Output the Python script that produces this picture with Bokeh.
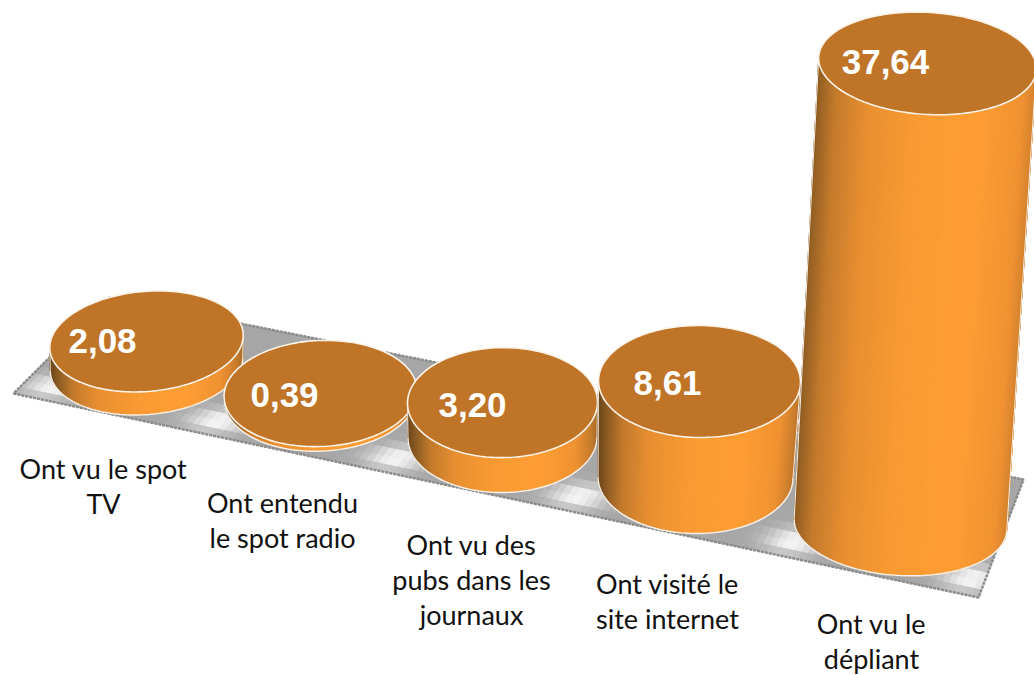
import numpy as np
from bokeh.plotting import figure
from bokeh.models import Range1d
from bokeh.core.properties import value
from bokeh.embed import file_html
from bokeh.resources import INLINE

# ---- chart data
categories = ["Ont vu le spot\nTV", "Ont entendu\nle spot radio",
              "Ont vu des\npubs dans les\njournaux", "Ont visité le\nsite internet",
              "Ont vu le\ndépliant"]
values = [2.08, 0.39, 3.20, 8.61, 37.64]
value_labels = ["2,08", "0,39", "3,20", "8,61", "37,64"]

# ---- layout of the 3D projection (reference pixels)
base_cx = [146, 320, 502, 695, 900]
base_cy = [364, 397.6, 437, 477, 524]
base_rx = [96.5, 96, 94.5, 97.5, 106.5]
top_cx = [146, 320, 502, 699, 927]
top_rx = [97, 96.5, 95, 101, 109]
disc_ry = [50, 53, 55, 56, 51]
tilt_deg = [5, 2.5, 0.5, -0.5, -3.5]
px_per_unit = [11.1, 11.8, 10.9, 11.15, 12.25]
label_x = [102, 284, 472, 667, 885]
label_y = [340, 394, 404, 382, 61]
cat_x = [103, 282, 471, 667, 871]
cat_y = [468, 502, 544, 583, 623]
cat_step = 35
floor_x = [13, 978, 1023, 109]
floor_y = [393, 597, 479, 297]

TOP = "#c07428"
GRAD_F = [0, .04, .12, .25, .45, .70, .88, .96, 1]
GRAD_C = [(110, 69, 25), (138, 90, 34), (196, 122, 44), (232, 143, 48), (250, 154, 50),
          (255, 157, 51), (240, 146, 50), (200, 124, 44), (168, 106, 40)]


def hexcol(rgb):
    return "#%02x%02x%02x" % tuple(int(round(c)) for c in rgb)


def grad(f):
    return hexcol([np.interp(f, GRAD_F, [c[i] for c in GRAD_C]) for i in range(3)])


def ell(t, cx, cy, rx, ry, a):
    x = cx + rx * np.cos(t) * np.cos(a) + ry * np.sin(t) * np.sin(a)
    y = cy + ry * np.sin(t) * np.cos(a) - rx * np.cos(t) * np.sin(a)
    return x, y


p = figure(width=1034, height=675, x_range=Range1d(0, 1034), y_range=Range1d(675, 0),
           toolbar_location=None, output_backend="svg", min_border=0,
           outline_line_color=None, background_fill_color="white", border_fill_color="white")
p.axis.visible = False
p.grid.visible = False

# ---- floor with streaked texture
fx = np.array(floor_x, float)
fy = np.array(floor_y, float)
NU, NV = 150, 14
streak_bottom = [.03, .20, .385, .575, .80, .985]
streak_top = [.24, .47, .69, .93]
xs, ys, cs = [], [], []


def fp(u, v):
    # u along the long side, v across from the front edge to the back edge
    ax, ay = fx[0] + (fx[1] - fx[0]) * u, fy[0] + (fy[1] - fy[0]) * u
    bx, by = fx[3] + (fx[2] - fx[3]) * u, fy[3] + (fy[2] - fy[3]) * u
    return ax + (bx - ax) * v, ay + (by - ay) * v


for i in range(NU):
    for j in range(NV):
        u0, u1, v0, v1 = i / NU, (i + 1) / NU, j / NV, (j + 1) / NV
        um, vm = (u0 + u1) / 2, (v0 + v1) / 2
        w = sum(np.exp(-((um - s - (vm - .1) * .05) / .028) ** 2) for s in streak_bottom) * np.exp(-((vm - .14) / .11) ** 2)
        w += sum(np.exp(-((um - s) / .02) ** 2) for s in streak_top) * np.exp(-((vm - .84) / .1) ** 2)
        w = min(w, 1)
        g = 166 + (250 - 166) * w
        q = [fp(u0, v0), fp(u1, v0), fp(u1, v1), fp(u0, v1)]
        xs.append([c[0] for c in q])
        ys.append([c[1] for c in q])
        cs.append(hexcol((g, g, g)))
p.patches(xs, ys, fill_color=cs, line_color=cs, line_width=1)
p.patch(floor_x + floor_x[:1], floor_y + floor_y[:1], fill_color=None, line_color="#8c8c8c",
        line_width=2.5, line_dash="3 1")

# ---- cylinders, back to front
for i, v in enumerate(values):
    a = np.radians(tilt_deg[i])
    h = v * px_per_unit[i]
    tcy = base_cy[i] - h
    ry = disc_ry[i]
    t0_b = np.arctan2(ry * np.tan(a), base_rx[i])
    t = np.linspace(t0_b, t0_b + np.pi, 91)
    tx, ty = ell(t, top_cx[i], tcy, top_rx[i], ry, a)
    bx, by = ell(t, base_cx[i], base_cy[i], base_rx[i], ry, a)
    sx, sy, sc = [], [], []
    xmin, xmax = min(tx.min(), bx.min()), max(tx.max(), bx.max())
    for k in range(len(t) - 1):
        sx.append([tx[k], tx[k + 1], bx[k + 1], bx[k]])
        sy.append([ty[k], ty[k + 1], by[k + 1], by[k]])
        f = ((tx[k] + bx[k] + tx[k + 1] + bx[k + 1]) / 4 - xmin) / (xmax - xmin)
        sc.append(grad(f))
    p.patches(sx, sy, fill_color=sc, line_color=sc, line_width=1)
    p.line(bx, by, line_color="#f4efe8", line_width=1.5)
    p.line(np.r_[tx[:1], bx[:1]], np.r_[ty[:1], by[:1]], line_color="#f4efe8", line_width=1)
    p.line(np.r_[tx[-1:], bx[-1:]], np.r_[ty[-1:], by[-1:]], line_color="#f4efe8", line_width=1)
    tt = np.linspace(0, 2 * np.pi, 181)
    ex, ey = ell(tt, top_cx[i], tcy, top_rx[i], ry, a)
    p.patch(ex, ey, fill_color=TOP, line_color="#fbf3e8", line_width=1.6)

# ---- value labels
p.text(label_x, label_y, text=value_labels, text_color="white",
       text_font=value("Liberation Sans"), text_font_style="bold", text_font_size="35px",
       text_align="center", text_baseline="middle")

# ---- category labels
lx, ly, lt = [], [], []
for i, c in enumerate(categories):
    for j, line in enumerate(c.split("\n")):
        lx.append(cat_x[i])
        ly.append(cat_y[i] + j * cat_step)
        lt.append(line)
p.text(lx, ly, text=lt, text_color="#111111", text_font=value("Lato"), text_font_size="27px",
       text_align="center", text_baseline="middle")

open("out.html", "w").write(file_html(p, INLINE))
